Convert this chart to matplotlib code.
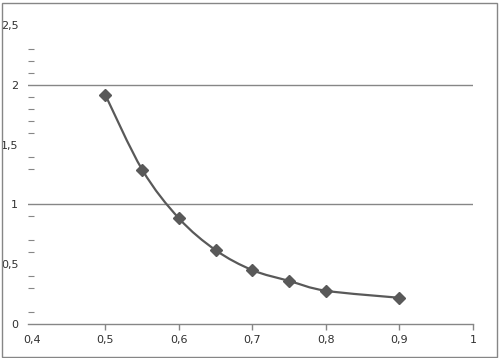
import matplotlib
matplotlib.use("Agg")
from matplotlib import pyplot as plt
from matplotlib.path import Path
from matplotlib.patches import PathPatch, Rectangle
import numpy as np

# values
xs = [0.5, 0.55, 0.6, 0.65, 0.7, 0.75, 0.8, 0.9]
ys = [1.913, 1.290, 0.883, 0.617, 0.450, 0.360, 0.278, 0.219]
xticks = [0.4, 0.5, 0.6, 0.7, 0.8, 0.9, 1.0]
yticks = [0, 0.5, 1, 1.5, 2, 2.5]
yminor = [0.1, 0.3, 0.4, 0.6, 0.7, 0.9, 1.3, 1.4, 1.6, 1.7, 1.8, 1.9, 2.1, 2.2, 2.3]

W, H = 499, 358
fig = plt.figure(figsize=(W / 100, H / 100), dpi=100)
ax = fig.add_axes([28 / W, 34 / H, (473 - 28) / W, (333 - 34) / H])

grey = '#868686'
txt = '#303030'
lc = '#595959'

# smoothed line (catmull-rom -> cubic bezier, like excel's smoothing)
px = np.array(xs)
py = np.array(ys)
verts = [(px[0], py[0])]
codes = [Path.MOVETO]
n = len(px)
for i in range(n - 1):
    p0 = (px[max(i - 1, 0)], py[max(i - 1, 0)])
    p1 = (px[i], py[i])
    p2 = (px[i + 1], py[i + 1])
    p3 = (px[min(i + 2, n - 1)], py[min(i + 2, n - 1)])
    c1 = (p1[0] + (p2[0] - p0[0]) / 6, p1[1] + (p2[1] - p0[1]) / 6)
    c2 = (p2[0] - (p3[0] - p1[0]) / 6, p2[1] - (p3[1] - p1[1]) / 6)
    verts += [c1, c2, p2]
    codes += [Path.CURVE4] * 3
ax.add_patch(PathPatch(Path(verts, codes), fill=False, edgecolor=lc, lw=1.6, zorder=3))
ax.plot(xs, ys, linestyle='none', marker='D', markersize=6, color=lc, zorder=4)

ax.set_xlim(0.4 - 4 / 742, 1.0)
ax.set_ylim(0, 2.5)
ax.set_xticks(xticks)
ax.set_xticklabels([('%g' % v).replace('.', ',') for v in xticks])
ax.set_yticks(yticks)
ax.set_yticklabels([('%g' % v).replace('.', ',') for v in yticks])
ax.set_yticks(yminor, minor=True)

for g in [1, 2]:
    ax.axhline(g, color=grey, lw=1, zorder=1)

for s in ['top', 'right', 'left']:
    ax.spines[s].set_visible(False)
ax.spines['bottom'].set_color(grey)
ax.spines['bottom'].set_linewidth(1)

ax.tick_params(axis='x', direction='out', length=4, width=1, color=grey,
               labelsize=8, labelcolor=txt, pad=4)
ax.tick_params(axis='y', which='major', length=0, labelsize=8, labelcolor=txt, pad=7)
ax.tick_params(axis='y', which='minor', direction='in', length=4, width=0.8, color=grey)
# no tick mark under 0,4 in the original
ax.xaxis.get_major_ticks()[0].tick1line.set_visible(False)

fig.patches.append(Rectangle((1.5 / W, 1.5 / H), (W - 4) / W, (H - 4) / H,
                             transform=fig.transFigure, fill=False,
                             edgecolor=grey, lw=1))

fig.savefig('out.png', dpi=100)
